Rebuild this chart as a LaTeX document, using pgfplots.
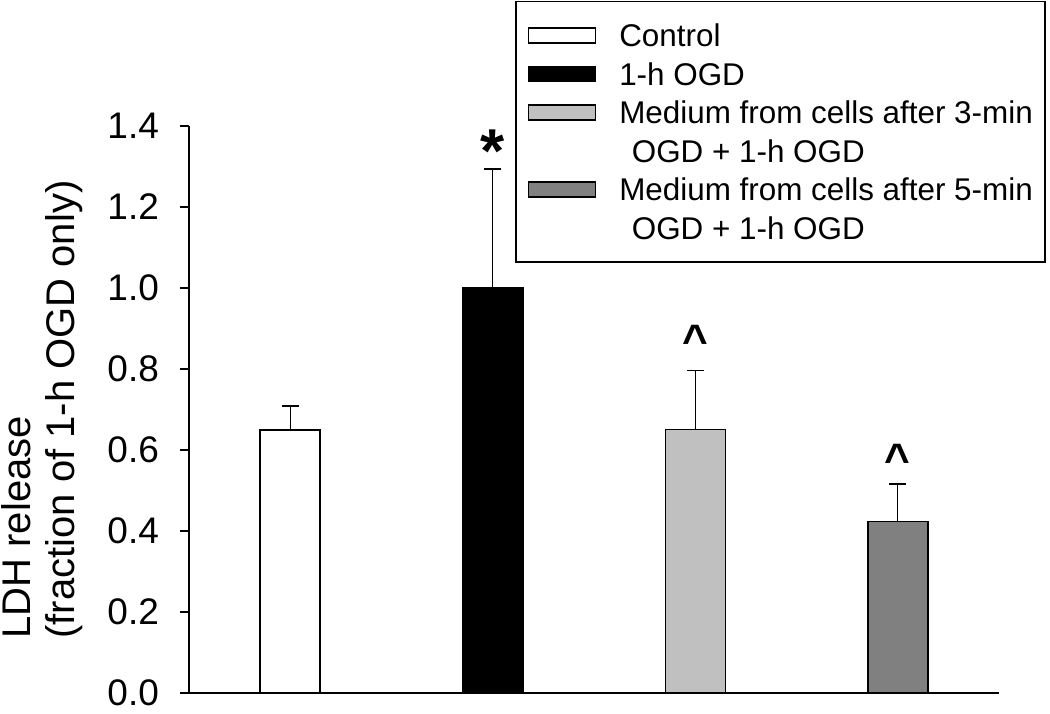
\documentclass[border=0pt]{standalone}
\usepackage{fontspec}
\setmainfont{Liberation Sans}
\usepackage{pgfplots}
\pgfplotsset{compat=1.18}
\definecolor{lgray}{RGB}{192,192,192}
\definecolor{dgray}{RGB}{128,128,128}
\pgfplotsset{
  mylegend/.style={legend image code/.code={\draw[##1, line width=0.75pt] (0pt,-3.75pt) rectangle (33.5pt,3.75pt);}},
  mybar/.style={ybar, bar width=30pt, draw=black, line width=0.75pt, mylegend,
    error bars/y dir=plus, error bars/y explicit,
    error bars/error bar style={line width=0.7pt, black, solid},
    error bars/error mark options={rotate=90, mark size=4.25pt, line width=0.7pt, black}}
}
\begin{document}
\begin{tikzpicture}
\begin{axis}[
  scale only axis, width=405pt, height=283.5pt,
  xmin=-0.5, xmax=3.5, ymin=0, ymax=1.4,
  clip=false,
  axis x line*=bottom, axis y line*=left,
  axis line style={line width=0.75pt, -},
  xtick=\empty,
  ytick={0,0.2,0.4,0.6,0.8,1.0,1.2,1.4},
  /pgf/number format/assume math mode=true,
  yticklabel style={/pgf/number format/fixed, /pgf/number format/fixed zerofill, /pgf/number format/precision=1},
  y tick label style={font=\fontsize{18.5}{18.5}\selectfont, xshift=-7pt},
  tick align=outside, major tick length=4.5pt,
  tick style={line width=0.75pt, black},
  ylabel={LDH release\\(fraction of 1-h OGD only)},
  ylabel style={align=left, font=\fontsize{20}{22}\selectfont, at={(axis description cs:-0.131,0.5)}, anchor=south, inner sep=0pt},
  legend cell align=left,
  legend style={at={(axis description cs:0.4025,1.2205)}, anchor=north west, draw=black, line width=0.75pt,
    inner xsep=6pt, inner ysep=9pt, row sep=3.25pt,
    font=\fontsize{15.7}{18}\selectfont,
    nodes={inner sep=0pt, text height=13.5pt, text depth=2.5pt},
    /tikz/every odd column/.append style={column sep=11.5pt}},
]
\addplot[fill=white, mybar] coordinates {(0,0.649) +- (0,0.060)};
\addplot[fill=black, mybar] coordinates {(1,1.000) +- (0,0.294)};
\addplot[fill=lgray, mybar] coordinates {(2,0.651) +- (0,0.146)};
\addlegendimage{empty legend}
\addplot[fill=dgray, mybar] coordinates {(3,0.423) +- (0,0.093)};
\addlegendimage{empty legend}
\legend{Control, 1-h OGD, Medium from cells after 3-min\hspace{7pt}, \hspace{0.4em}OGD + 1-h OGD, Medium from cells after 5-min\hspace{7pt}, \hspace{0.4em}OGD + 1-h OGD}
\node[font=\bfseries\fontsize{31}{31}\selectfont, anchor=base] at (axis cs:1,1.285) {*};
\node[font=\bfseries\fontsize{22}{22}\selectfont, anchor=base] at (axis cs:2,0.834) {\textasciicircum};
\node[font=\bfseries\fontsize{22}{22}\selectfont, anchor=base] at (axis cs:3,0.540) {\textasciicircum};
\coordinate (O) at (rel axis cs:0,0);
\end{axis}
\pgfresetboundingbox
\path (O) ++(-94.5pt,-10pt) rectangle ++(525pt,356.5pt);
\end{tikzpicture}
\end{document}
